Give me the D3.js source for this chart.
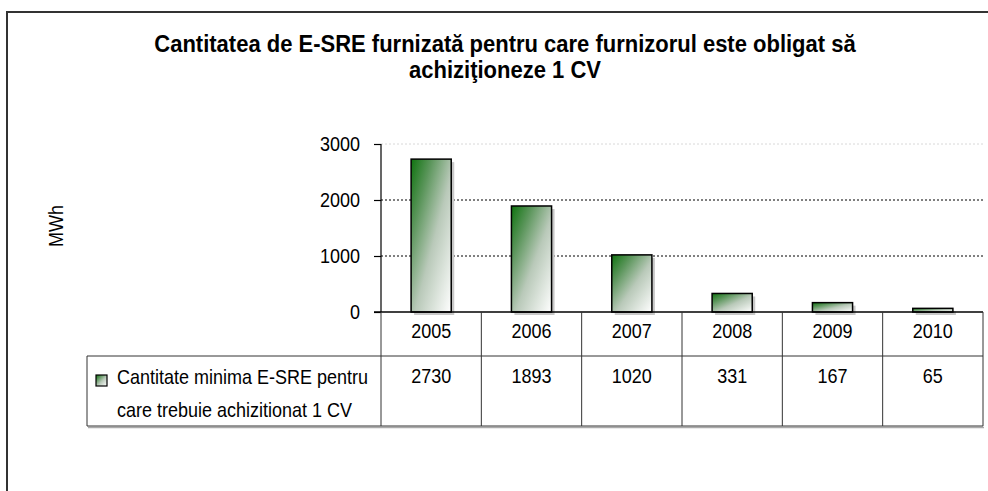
<!DOCTYPE html>
<html lang="ro">
<head>
<meta charset="UTF-8">
<title>Cantitatea de E-SRE</title>
<script src="https://d3js.org/d3.v7.min.js"></script>
<style>
  body { margin: 0; background: #fff; }
  svg text { font-family: "Liberation Sans", Arial, sans-serif; fill: #000; }
  .axis path { display: none; }
  .axis line { stroke: #000; stroke-width: 1.2; }
  .axis text { font-size: 18px; }
</style>
</head>
<body>
<svg width="988" height="491"></svg>
<script>
// chart data
const years = ["2005", "2006", "2007", "2008", "2009", "2010"];
const values = [2730, 1893, 1020, 331, 167, 65];
const yTicks = [0, 1000, 2000, 3000];
const titleLines = ["Cantitatea de E-SRE furnizată pentru care furnizorul este obligat să", "achiziţioneze 1 CV"];
const seriesLabel = ["Cantitate minima E-SRE pentru", "care trebuie achizitionat 1 CV"];
const yLabel = "MWh";

const svg = d3.select("svg");
const stretch = 1.09; // text in the original is a bit taller than wide

// gradient for bars
const defs = svg.append("defs");
const grad = defs.append("linearGradient")
    .attr("id", "barGrad")
    .attr("x1", 0).attr("y1", 0).attr("x2", 1).attr("y2", 1);
grad.append("stop").attr("offset", "0%").attr("stop-color", "#0f730f");
grad.append("stop").attr("offset", "25%").attr("stop-color", "#5a955a");
grad.append("stop").attr("offset", "55%").attr("stop-color", "#b9c9b9");
grad.append("stop").attr("offset", "100%").attr("stop-color", "#ffffff");

// outer frame
svg.append("rect")
    .attr("x", 7).attr("y", 12)
    .attr("width", 1000).attr("height", 500)
    .attr("fill", "none")
    .attr("stroke", "#333")
    .attr("stroke-width", 2);

// title
svg.selectAll(".title")
    .data(titleLines)
    .join("text")
    .attr("class", "title")
    .attr("transform", (d, i) => `translate(505,${52 + i * 26}) scale(1,${stretch})`)
    .attr("text-anchor", "middle")
    .style("font-size", "22px")
    .style("font-weight", "bold")
    .text(d => d);

const plotLeft = 381, plotRight = 983, plotTop = 144, plotBottom = 312;
const row1Bottom = 356, row2Bottom = 426, tableLeft = 87;

const x = d3.scaleBand().domain(years).range([plotLeft, plotRight]);
const y = d3.scaleLinear().domain([0, 3000]).range([plotBottom, plotTop]);

// gridlines
svg.append("g")
    .selectAll("line")
    .data(yTicks.filter(d => d > 0))
    .join("line")
    .attr("x1", plotLeft).attr("x2", plotRight)
    .attr("y1", d => y(d)).attr("y2", d => y(d))
    .attr("stroke", d => d === 3000 ? "#d8d8d8" : "#000")
    .attr("stroke-width", 1)
    .attr("stroke-dasharray", "2,2");

// y axis
const yAxis = svg.append("g")
    .attr("class", "axis")
    .attr("transform", `translate(${plotLeft},0)`)
    .call(d3.axisLeft(y).tickValues(yTicks).tickFormat(d3.format("d")).tickSize(7).tickPadding(14));
yAxis.selectAll("text")
    .attr("dy", null)
    .attr("transform", `translate(0,6.5) scale(1,${stretch})`);

svg.append("line")
    .attr("x1", plotLeft).attr("x2", plotLeft)
    .attr("y1", plotTop).attr("y2", plotBottom)
    .attr("stroke", "#000").attr("stroke-width", 1.2);

// y label
svg.append("text")
    .attr("transform", `translate(63,226) rotate(-90) scale(1,${stretch})`)
    .attr("text-anchor", "middle")
    .style("font-size", "18px")
    .text(yLabel);

// bars
const bw = x.bandwidth() * 0.4;
const bars = svg.append("g");
bars.selectAll(".shadow")
    .data(values)
    .join("rect")
    .attr("class", "shadow")
    .attr("x", (d, i) => x(years[i]) + x.bandwidth() * 0.3 + 3)
    .attr("y", d => y(d) + 3)
    .attr("width", bw)
    .attr("height", d => plotBottom - y(d))
    .attr("fill", "#c8c8c8");
bars.selectAll(".bar")
    .data(values)
    .join("rect")
    .attr("class", "bar")
    .attr("x", (d, i) => x(years[i]) + x.bandwidth() * 0.3)
    .attr("y", d => y(d))
    .attr("width", bw)
    .attr("height", d => plotBottom - y(d))
    .attr("fill", "url(#barGrad)")
    .attr("stroke", "#000")
    .attr("stroke-width", 1.5);

// data table
const tbl = svg.append("g");
// table shadow
tbl.append("line")
    .attr("x1", tableLeft + 1).attr("x2", plotRight + 1)
    .attr("y1", row2Bottom + 1.5).attr("y2", row2Bottom + 1.5)
    .attr("stroke", "#aaa").attr("stroke-width", 1.5);

const hLines = [
    { x1: plotLeft - 7, y: plotBottom, w: 1.5, c: "#000" },
    { x1: tableLeft, y: row1Bottom, w: 1, c: "#333" },
    { x1: tableLeft, y: row2Bottom, w: 1, c: "#333" }
];
tbl.selectAll(".h")
    .data(hLines)
    .join("line")
    .attr("x1", d => d.x1).attr("x2", plotRight)
    .attr("y1", d => d.y).attr("y2", d => d.y)
    .attr("stroke", d => d.c).attr("stroke-width", d => d.w);

const vPos = years.map(d => x(d)).concat([plotRight]);
tbl.selectAll(".v")
    .data(vPos)
    .join("line")
    .attr("x1", d => d).attr("x2", d => d)
    .attr("y1", plotBottom).attr("y2", row2Bottom)
    .attr("stroke", "#333").attr("stroke-width", 1);
tbl.append("line")
    .attr("x1", tableLeft).attr("x2", tableLeft)
    .attr("y1", row1Bottom).attr("y2", row2Bottom)
    .attr("stroke", "#333").attr("stroke-width", 1);

tbl.selectAll(".yr")
    .data(years)
    .join("text")
    .attr("transform", d => `translate(${x(d) + x.bandwidth() / 2},338) scale(1,${stretch})`)
    .attr("text-anchor", "middle")
    .style("font-size", "18px")
    .text(d => d);

tbl.selectAll(".val")
    .data(values)
    .join("text")
    .attr("transform", (d, i) => `translate(${x(years[i]) + x.bandwidth() / 2},383) scale(1,${stretch})`)
    .attr("text-anchor", "middle")
    .style("font-size", "18px")
    .text(d => d);

// legend key
tbl.append("rect")
    .attr("x", 96).attr("y", 375)
    .attr("width", 11).attr("height", 11)
    .attr("fill", "url(#barGrad)")
    .attr("stroke", "#000").attr("stroke-width", 1.2);

tbl.selectAll(".lg")
    .data(seriesLabel)
    .join("text")
    .attr("transform", (d, i) => `translate(117,${384 + i * 33}) scale(1,${stretch})`)
    .style("font-size", "18px")
    .text(d => d);
</script>
</body>
</html>
